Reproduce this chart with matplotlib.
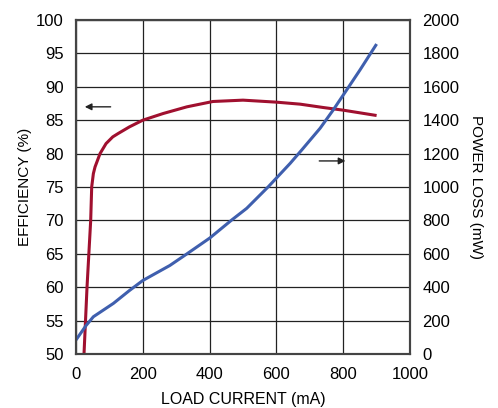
import numpy as np
import matplotlib.pyplot as plt

plt.rcParams['font.family'] = ['Liberation Sans', 'DejaVu Sans']

# efficiency curve (left axis)
eff_x = [24, 33, 44, 47, 52, 57, 72, 90, 110, 126, 160, 200, 261, 332, 410, 500, 600, 671, 740, 800, 900]
eff_y = [50, 60, 70, 75, 77, 78, 80, 81.5, 82.5, 83, 84, 85, 86, 87, 87.8, 88, 87.7, 87.4, 86.9, 86.5, 85.7]

# power loss curve (right axis)
loss_x = [0, 30, 52, 112, 160, 200, 281, 331, 401, 466, 511, 576, 641, 676, 731, 770, 810, 850, 900]
loss_y = [84, 170, 223, 303, 380, 440, 530, 598, 695, 802, 872, 1002, 1141, 1222, 1352, 1461, 1580, 1700, 1856]

xticks = [0, 200, 400, 600, 800, 1000]
yticks_l = [50, 55, 60, 65, 70, 75, 80, 85, 90, 95, 100]
yticks_r = [0, 200, 400, 600, 800, 1000, 1200, 1400, 1600, 1800, 2000]

red = "#a0102f"
blue = "#3f5fae"

fig = plt.figure(figsize=(4.98, 4.08), dpi=100)
ax = fig.add_axes([0.1526, 0.1324, 0.6707, 0.8186])
ax2 = ax.twinx()

ax.plot(eff_x, eff_y, color=red, lw=2.2, solid_capstyle='butt')
ax2.plot(loss_x, loss_y, color=blue, lw=2.2, solid_capstyle='butt')

ax.set_xlim(0, 1000)
ax.set_ylim(50, 100)
ax2.set_ylim(0, 2000)
ax.set_xticks(xticks)
ax.set_yticks(yticks_l)
ax2.set_yticks(yticks_r)
ax.grid(True, color="#222222", lw=0.9)
ax.set_axisbelow(True)
for a in (ax, ax2):
    a.tick_params(length=0, labelsize=12, pad=9)
    for s in a.spines.values():
        s.set_color("#444444")
        s.set_linewidth(1.5)
ax.tick_params(axis='x', pad=9.5)

ax.set_xlabel("LOAD CURRENT (mA)", fontsize=11.5, labelpad=7)
ax.set_ylabel("EFFICIENCY (%)", fontsize=11, labelpad=3)
ax2.set_ylabel("POWER LOSS (mW)", fontsize=11, rotation=-90, labelpad=17)

ax.annotate("", xy=(18, 87), xytext=(112, 87),
            arrowprops=dict(arrowstyle="-|>", color="#222222", lw=1, mutation_scale=10))
ax2.annotate("", xy=(815, 1156), xytext=(720, 1156),
             arrowprops=dict(arrowstyle="-|>", color="#222222", lw=1, mutation_scale=10))

fig.savefig("out.png", dpi=100)
